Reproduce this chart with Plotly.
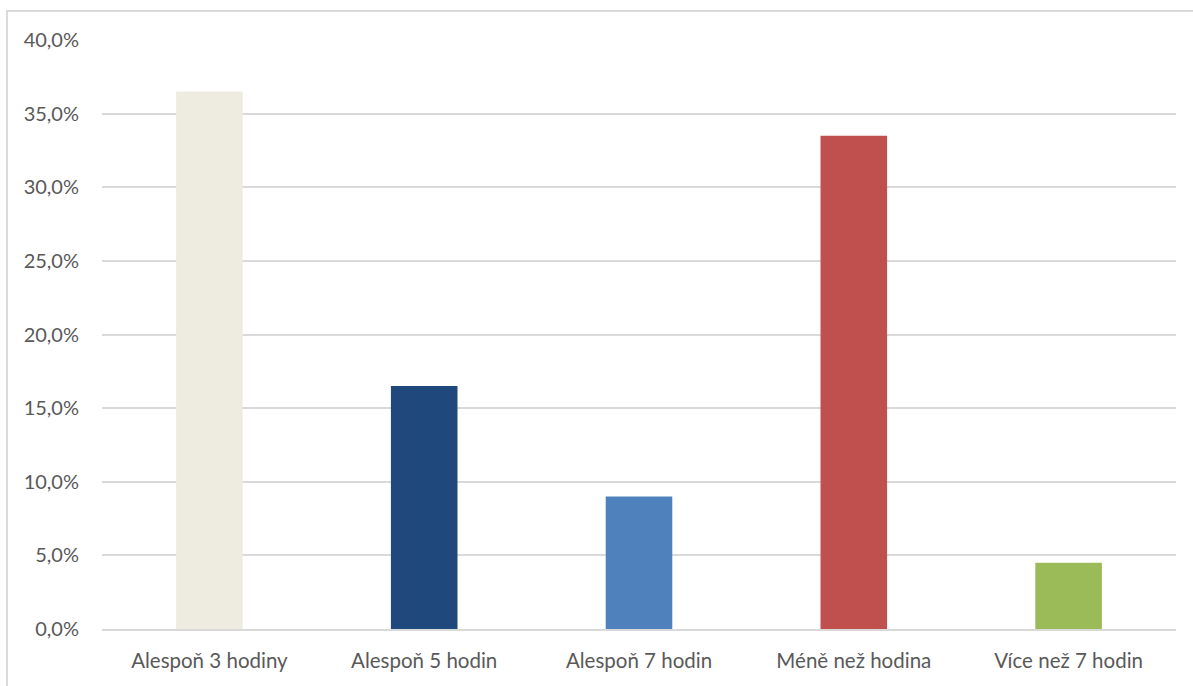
import plotly.graph_objects as go

categories = ["Alespoň 3 hodiny", "Alespoň 5 hodin", "Alespoň 7 hodin", "Méně než hodina", "Více než 7 hodin"]
values = [36.5, 16.5, 9.0, 33.5, 4.5]
colors = ["#EEECE1", "#1F497D", "#4F81BD", "#C0504D", "#9BBB59"]
tick_vals = [0, 5, 10, 15, 20, 25, 30, 35, 40]
tick_text = ["0,0%", "5,0%", "10,0%", "15,0%", "20,0%", "25,0%", "30,0%", "35,0%", "40,0%"]

fig = go.Figure(go.Bar(
    x=categories, y=values,
    marker=dict(color=colors, line=dict(width=0)),
    width=0.31,
))

fig.update_layout(
    width=1193, height=686,
    margin=dict(l=102, r=17, t=40, b=57),
    paper_bgcolor="white", plot_bgcolor="white",
    font=dict(family="Lato, Liberation Sans, sans-serif", size=20, color="#595959"),
    showlegend=False,
    xaxis=dict(showgrid=False, showline=True, linecolor="#D9D9D9", linewidth=2,
               ticks="", ticklabelstandoff=12, tickfont=dict(size=20.5, color="#595959")),
    yaxis=dict(range=[0, 40], tickvals=tick_vals, ticktext=tick_text,
               showgrid=True, gridcolor="#D9D9D9", gridwidth=2, zeroline=False,
               showline=False, ticks="", ticklabelstandoff=22,
               tickfont=dict(size=20, color="#595959")),
    shapes=[dict(type="rect", xref="paper", yref="paper",
                 x0=-0.0885, x1=1.2, y0=-0.3, y1=1.0492,
                 line=dict(color="#D9D9D9", width=2), fillcolor="rgba(0,0,0,0)", layer="below")],
)

fig.write_html("out.html", config={"displayModeBar": False},
               post_script="document.body.style.margin='0';")
